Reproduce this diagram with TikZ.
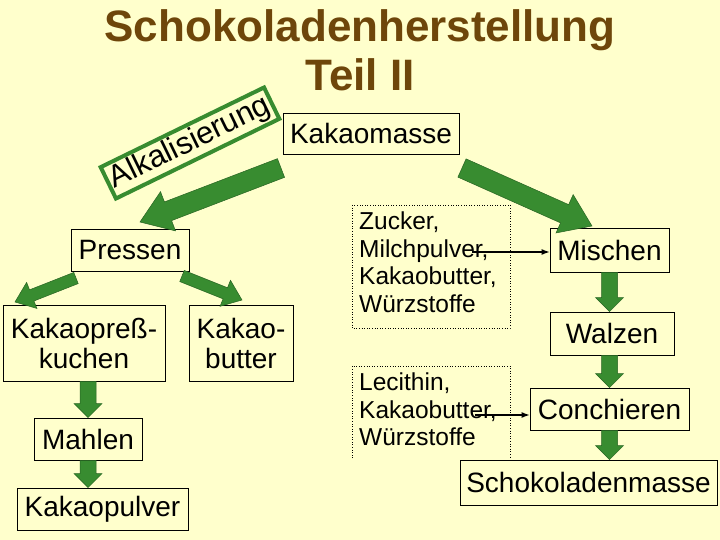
\documentclass[tikz,border=0pt]{standalone}
\usepackage{fontspec}
\setmainfont{Liberation Sans}
\usetikzlibrary{arrows.meta,calc}
\definecolor{bg}{RGB}{255,255,204}
\definecolor{grn}{RGB}{56,140,48}
\definecolor{grnd}{RGB}{40,100,35}
\definecolor{ttl}{RGB}{110,70,10}
\newcommand\fatarrow[5]{%
\coordinate (fa@s) at (#1); \coordinate (fa@e) at (#2);
\coordinate (fa@c) at ($(fa@e)!#5pt!(fa@s)$);
\fill[fat] ($(fa@s)!#3pt!90:(fa@e)$) -- ($(fa@s)!#3pt!-90:(fa@e)$) --
 ($(fa@c)!#3pt!-90:(fa@e)$) -- ($(fa@c)!#4pt!-90:(fa@e)$) -- (fa@e) --
 ($(fa@c)!#4pt!90:(fa@e)$) -- ($(fa@c)!#3pt!90:(fa@e)$) -- cycle;}
\begin{document}
\begin{tikzpicture}[x=1pt,y=-1pt,
  box/.style={draw=black,line width=0.8pt,inner sep=0pt,align=center,font=\fontsize{28}{30}\selectfont},
  dotbox/.style={inner sep=0pt,align=left,anchor=north west,font=\fontsize{24.5}{27.5}\selectfont},
  fat/.style={draw=grnd,line width=0.5pt,fill=grn},
  thin/.style={-{Latex[length=8pt,width=6pt]},line width=1.2pt}]
\fill[bg] (0,0) rectangle (720,540);
\useasboundingbox (0,0) rectangle (720,540);
\node[font=\fontsize{44}{49}\selectfont\bfseries,text=ttl,align=center] (title) at (360,50) {Schokoladenherstellung\\Teil II};
\node[box,minimum width=176,minimum height=41] (km) at (371,133.5) {Kakaomasse};
\node[draw=grn,line width=4pt,rotate=26,inner sep=3pt,font=\fontsize{31}{32}\selectfont] (alk) at (190,143) {Alkalisierung};
\node[box,minimum width=118,minimum height=42] (pr) at (130,250) {Pressen};
\node[box,minimum width=162,minimum height=76] (kk) at (84,343) {Kakaopreß-\\kuchen};
\node[box,minimum width=104,minimum height=76] (kb) at (241,343) {Kakao-\\butter};
\node[box,minimum width=108,minimum height=42] (ma) at (88,439) {Mahlen};
\node[box,minimum width=171,minimum height=42] (kp) at (102.5,509) {Kakaopulver};
\node[box,minimum width=119,minimum height=44] (mi) at (609.5,250) {Mischen};
\node[box,minimum width=124,minimum height=43] (wa) at (612,333.5) {Walzen};
\node[box,minimum width=159,minimum height=42] (co) at (609.5,409) {Conchieren};
\node[box,minimum width=257,minimum height=45] (sm) at (588.5,482.5) {Schokoladenmasse};
\draw[dotted,line width=0.6pt] (352,205) rectangle (510,328);
\node[dotbox] (z1) at (359,212) {Zucker,\\Milchpulver,\\Kakaobutter,\\Würzstoffe};
\draw[dotted,line width=0.6pt] (352,458) -- (352,366) -- (510,366) -- (510,458);
\node[dotbox] (z2) at (359,373) {Lecithin,\\Kakaobutter,\\Würzstoffe};
% thin arrows
\coordinate (a1) at (472,252);
\coordinate (a2) at (475,415);
\draw[thin] (a1) -- (mi.west |- a1);
\draw[thin] (a2) -- (co.west |- a2);
% fat arrows
\coordinate (b1s) at (281,168); \coordinate (b1e) at (140,222);
\coordinate (b2s) at (462,168); \coordinate (b2e) at (592,226);
\coordinate (p1s) at (76,278); \coordinate (p1e) at (15,302);
\coordinate (p2s) at (182,276); \coordinate (p2e) at (242,300);
\fatarrow{b1s}{b1e}{10}{21}{30}
\fatarrow{b2s}{b2e}{10}{21}{30}
\fatarrow{p1s}{p1e}{6}{14}{18}
\fatarrow{p2s}{p2e}{6}{14}{18}
\fatarrow{kk.south -| ma}{ma.north}{8}{14}{14}
\fatarrow{ma.south}{kp.north -| ma}{8}{14}{14}
\fatarrow{mi.south}{wa.north -| mi}{8}{14}{14}
\fatarrow{wa.south -| mi}{co.north -| mi}{8}{14}{14}
\fatarrow{co.south -| mi}{sm.north -| mi}{8}{14}{14}
\end{tikzpicture}
\end{document}
